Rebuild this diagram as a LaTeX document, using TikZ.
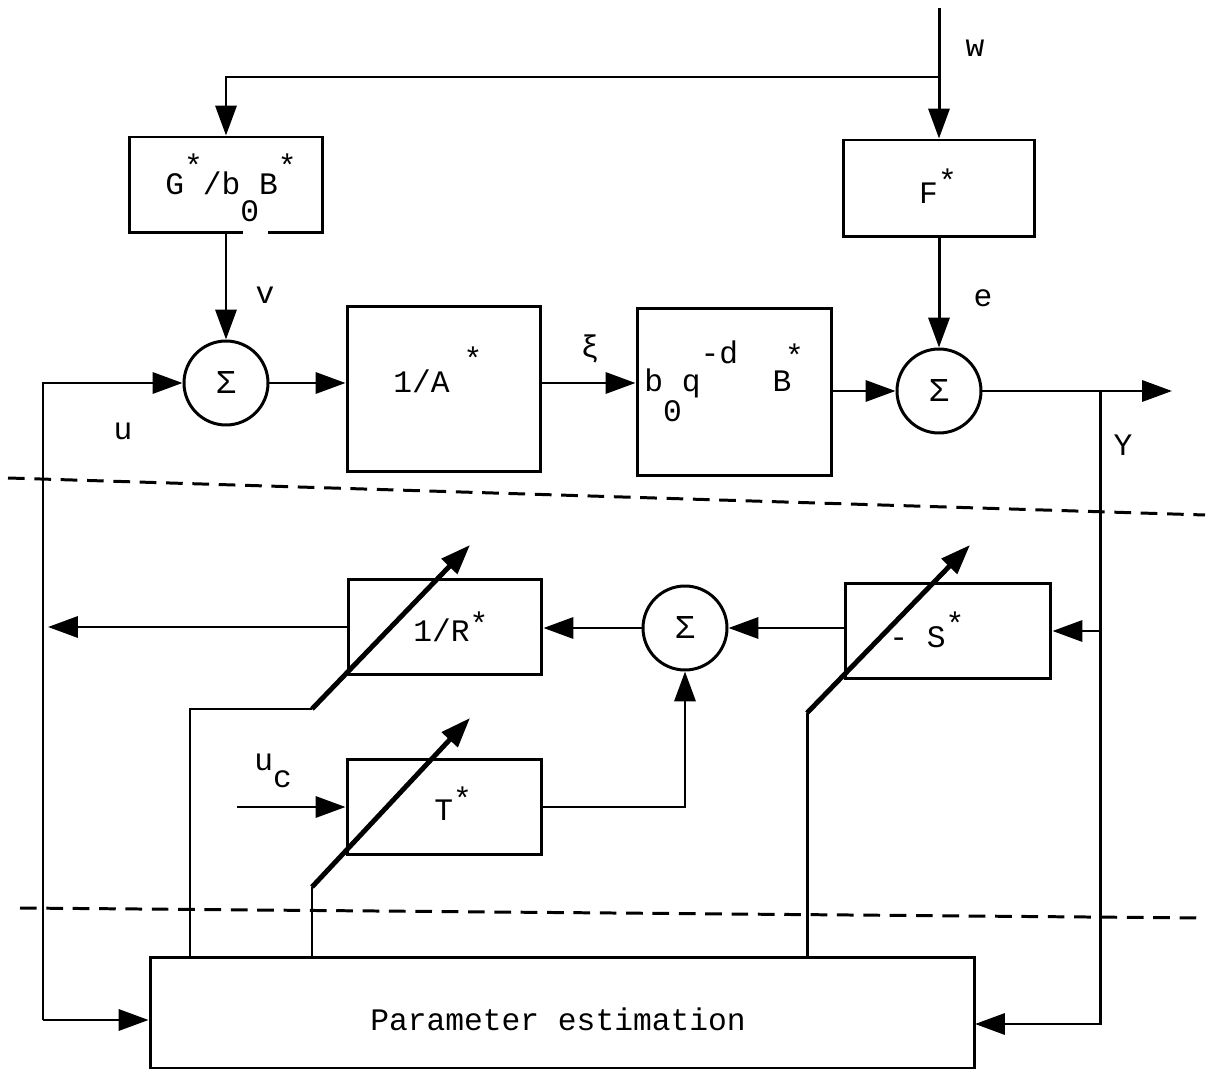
\documentclass[tikz,border=0pt]{standalone}
\usepackage{fontspec}
\setmainfont{Liberation Mono}
\usetikzlibrary{arrows.meta}
\tikzset{>={Triangle[length=17pt,width=12pt]}}
\tikzset{
    block/.style={draw, line width=1.7pt, inner sep=0pt},
    summer/.style={draw, circle, line width=1.7pt, minimum size=1.68cm, inner sep=0pt, font=\fontsize{19}{20}\selectfont},
    sig/.style={line width=1.7pt},
    tune/.style={line width=2.8pt},
    sepline/.style={line width=1.7pt, dash pattern=on 9.5pt off 5.5pt},
    txt/.style={inner sep=0pt, anchor=base}
}
\newcommand{\rup}[2][0.6em]{\raisebox{#1}{#2}}
\newcommand{\rdn}[2][0.95em]{\raisebox{-#1}{#2}}

\begin{document}
\begin{tikzpicture}[x=0.02cm, y=-0.02cm, font=\fontsize{17.8}{20}\selectfont]
    \useasboundingbox (0,0) rectangle (1211,1074);

    % blocks
    \node[block, minimum width=3.86cm, minimum height=1.92cm] (gblk) at (226,185) {};
    \node[block, minimum width=3.82cm, minimum height=1.94cm] (fblk) at (939,188.5) {};
    \node[block, minimum width=3.88cm, minimum height=3.32cm] (ablk) at (444,389) {};
    \node[block, minimum width=3.90cm, minimum height=3.36cm] (bblk) at (734.5,392) {};
    \node[block, minimum width=3.88cm, minimum height=1.90cm] (rblk) at (445,627) {};
    \node[block, minimum width=4.12cm, minimum height=1.92cm] (sblk) at (948,631) {};
    \node[block, minimum width=3.90cm, minimum height=1.92cm] (tblk) at (444.5,807) {};
    \node[block, minimum width=16.5cm, minimum height=2.22cm] (est) at (562.5,1012.5) {};
    \fill[white] (243,226) rectangle (268,240);

    \node[summer] (sum1) at (226,383) {Σ};
    \node[summer] (sum2) at (939,391) {Σ};
    \node[summer] (sum3) at (685,628) {Σ};

    % texts in the blocks
    \node[txt] (glbl) at (231,195) {G\rup{*}/b\rdn[0.85em]{0}B\rup{*}};
    \node[txt] (flbl) at (938,204) {F\rup[0.4em]{*}};
    \node[txt, anchor=base west] (albl) at (393,393) {1/A\rup[0.75em]{\kern0.45em*}};
    \node[txt, anchor=base west] (blbl) at (644,392) {b\rdn{0}q\rup[0.9em]{-d}\hspace{1.1em}B\rup[0.8em]{\kern-0.2em*}};
    \node[txt, anchor=base west] (rlbl) at (413,642) {1/R\rup[0.25em]{*}};
    \node[txt, anchor=base west] (slbl) at (889,647) {- S\rup[0.4em]{*}};
    \node[txt, anchor=base west] (tlbl) at (434,820) {T\rup[0.35em]{*}};
    \node[txt] (estlbl) at (558,1030) {Parameter estimation};

    % signal names
    \node[txt] (wlbl) at (975,57) {w};
    \node[txt] (vlbl) at (265,304) {v};
    \node[txt] (elbl) at (983,307) {e};
    \node[txt] (xilbl) at (590,358) {ξ};
    \node[txt] (ulbl) at (123,440) {u};
    \node[txt] (ylbl) at (1123,456) {Y};
    \node[txt, anchor=base west] (uclbl) at (254,770) {u\rdn[0.55em]{c}};

    % connectors
    \coordinate (wtop) at (939,8);
    \coordinate (wj) at (939,77);
    \draw[sig, ->] (wtop) -- (fblk);
    \draw[sig, ->] (wj) -| (gblk);
    \draw[sig, ->] (gblk) -- (sum1);
    \draw[sig, ->] (fblk) -- (sum2);
    \draw[sig, ->] (sum1) -- (sum1 -| ablk.west);
    \draw[sig, ->] (sum1 -| ablk.east) -- (sum1 -| bblk.west);
    \draw[sig, ->] (sum2 -| bblk.east) -- (sum2);

    \coordinate (yout) at (1172,391);
    \coordinate (yj) at (1100,391);
    \coordinate (ein) at (975,1024);
    \draw[sig, ->] (sum2) -- (yout);
    \draw[sig, ->] (yj) |- (ein);
    \draw[sig, ->] (yj |- sblk) -- (sblk);
    \draw[sig, ->] (sblk.west |- sum3) -- (sum3);
    \draw[sig, ->] (sum3) -- (sum3 -| rblk.east);

    \coordinate (uout) at (48,627);
    \coordinate (utop) at (43,383);
    \coordinate (ubot) at (43,1020);
    \draw[sig, ->] (rblk) -- (uout);
    \draw[sig, ->] (ubot) -- (utop) -- (sum1);
    \draw[sig, ->] (ubot) -- (ubot -| est.west);

    \coordinate (ucin) at (237,807);
    \draw[sig, ->] (ucin) -- (tblk);
    \draw[sig, ->] (tblk) -| (sum3);

    % adjustable parameters
    \coordinate (rbend) at (190,709);
    \coordinate (rk) at (312,709);
    \coordinate (rtip) at (470,545);
    \coordinate (tk) at (312,887);
    \coordinate (ttip) at (470,718);
    \coordinate (sk) at (807,713);
    \coordinate (stip) at (970,545);
    \draw[sig] (est.north -| rbend) -- (rbend) -- (rk);
    \draw[tune, ->] (rk) -- (rtip);
    \draw[sig] (est.north -| tk) -- (tk);
    \draw[tune, ->] (tk) -- (ttip);
    \draw[sig] (est.north -| sk) -- (sk);
    \draw[tune, ->] (sk) -- (stip);

    % dividing lines
    \draw[sepline] (8,478) -- (1205,515);
    \draw[sepline] (20,908) -- (1205,918);
\end{tikzpicture}
\end{document}
